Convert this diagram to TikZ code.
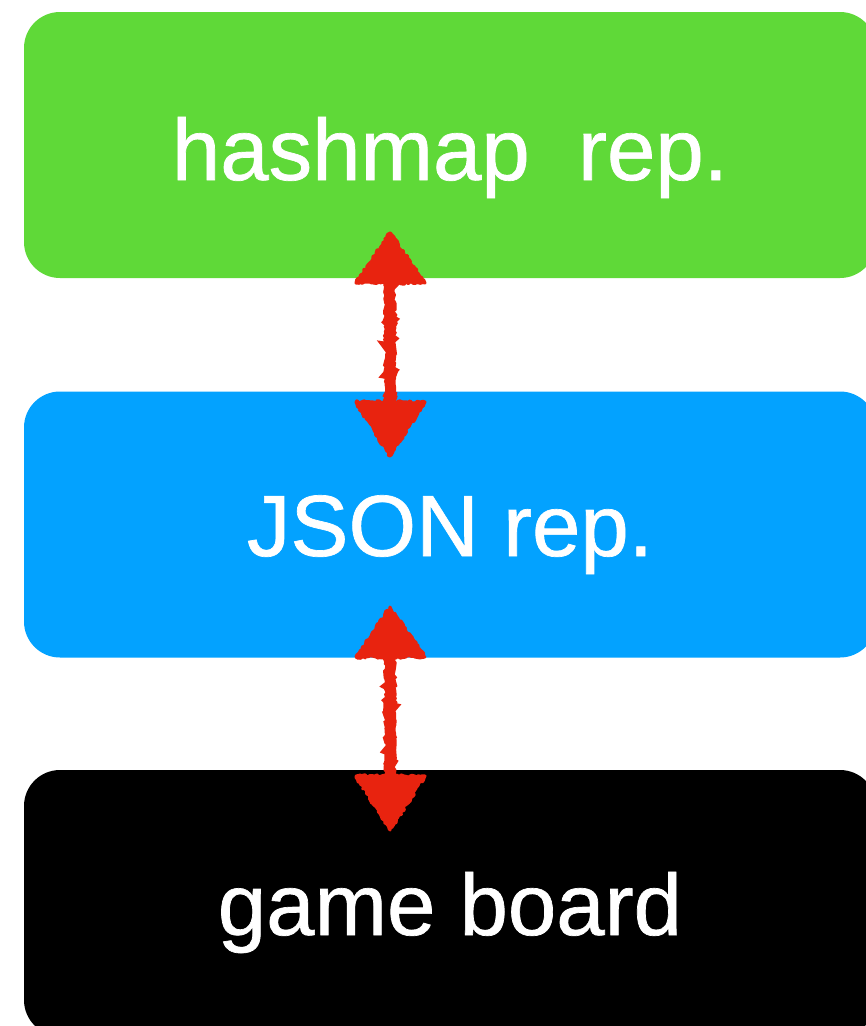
\documentclass[tikz,border=0pt]{standalone}
\usepackage{fontspec}
\setmainfont[FakeBold=0.8]{Liberation Sans}
\usetikzlibrary{decorations.pathmorphing,calc}
\definecolor{boxgreen}{HTML}{5FD938}
\definecolor{boxblue}{HTML}{03A2FF}
\definecolor{arrowred}{HTML}{E8230F}
\begin{document}
\begin{tikzpicture}[x=1pt,y=-1pt,
  panel/.style={draw=none,rounded corners=36pt,minimum width=852pt,minimum height=266pt,inner sep=0pt},
  caption/.style={text=white,anchor=base,inner sep=0pt,font=\fontsize{87}{100}\selectfont},
  rough/.style={decorate,decoration={random steps,segment length=2pt,amplitude=1.3pt}},
  shaft/.style={draw=arrowred,line width=11pt,rough},
  head/.style={fill=arrowred,draw=arrowred,line width=3pt,line join=round,rough}]
\useasboundingbox (0,0) rectangle (866,1026);
\clip (0,0) rectangle (866,1026);
\fill[white] (0,0) rectangle (866,1026);

% three stacked panels
\node[panel,fill=boxgreen] (hash) at (450,145) {};
\node[panel,fill=boxblue]  (json) at (450,524.5) {};
\node[panel,fill=black]    (board) at (450,903) {};

\node[caption] (hashtxt)  at (450,180) {hashmap\ \ rep.};
\node[caption] (jsontxt)  at (450,556) {JSON rep.};
\node[caption] (boardtxt) at (450,935) {game board};

% arrow end points (tips)
\coordinate (a1) at (390,233);
\coordinate (a2) at (390,456);
\coordinate (b1) at (390,607);
\coordinate (b2) at (390,830);

% double-headed connectors drawn by hand
\foreach \s/\e in {a1/a2,b1/b2}{
  \draw[shaft] ($(\s)+(0,40)$) -- ($(\e)+(0,-40)$);
  \filldraw[head] (\s) -- ($(\s)+(-34,50)$) -- ($(\s)+(35,50)$) -- cycle;
  \filldraw[head] (\e) -- ($(\e)+(-34,-54)$) -- ($(\e)+(35,-54)$) -- cycle;
}
\end{tikzpicture}
\end{document}
